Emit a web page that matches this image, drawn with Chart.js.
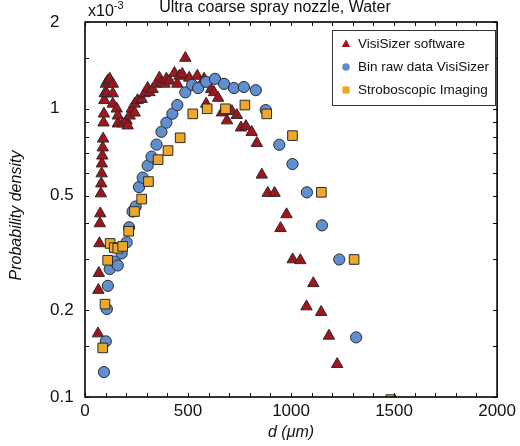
<!DOCTYPE html>
<html>
<head>
<meta charset="utf-8">
<title>Ultra coarse spray nozzle, Water</title>
<script src="https://cdn.jsdelivr.net/npm/chart.js@4.4.1/dist/chart.umd.min.js"></script>
<style>
  html, body { margin: 0; padding: 0; background: #fff; }
  #wrap { width: 520px; height: 446px; }
</style>
</head>
<body>
<div id="wrap"><canvas id="chart" width="520" height="446"></canvas></div>
<script>
// droplet diameter d (um) and probability density (x10^-3)
var visiD = [63, 65, 67, 70, 72, 74, 77, 79, 81, 82, 84, 86, 88, 90, 92, 94, 96, 101, 106, 110,
    120, 135, 135, 135, 154, 159, 159, 183, 202, 207, 217, 227, 241, 241, 255, 275, 289, 304, 313, 328,
    347, 361, 371, 386, 395, 410, 434, 448, 458, 472, 487, 506, 545, 578, 588, 612, 626, 646, 665, 689,
    713, 737, 757, 781, 809, 834, 858, 887, 920, 949, 978, 1008, 1045, 1075, 1108, 1146, 1184, 1224];
var visiP = [0.166, 0.235, 0.269, 0.341, 0.40, 0.433, 0.508, 0.55, 0.596, 0.645, 0.687, 0.733, 0.787, 0.895, 0.961, 1.07, 1.13, 1.22, 1.13, 1.25,
    1.27, 1.22, 1.13, 1.04, 1.0, 0.946, 0.888, 0.888, 0.909, 0.874, 0.946, 1.0, 0.969, 1.04, 1.07, 1.08, 1.13, 1.18, 1.14, 1.17,
    1.22, 1.28, 1.23, 1.22, 1.27, 1.25, 1.33, 1.22, 1.30, 1.32, 1.50, 1.28, 1.30, 1.27, 1.04, 1.17, 1.14, 1.09, 0.97, 0.91,
    0.98, 0.95, 0.86, 0.87, 0.83, 0.76, 0.59, 0.51, 0.51, 0.385, 0.43, 0.30, 0.298, 0.206, 0.248, 0.197, 0.163, 0.13];

var binD = [92, 101, 106, 111, 120, 145, 159, 178, 202, 214, 231, 246, 262, 280, 304, 323, 347, 371, 395, 424,
    448, 487, 520, 549, 588, 631, 675, 723, 771, 829, 877, 943, 1007, 1077, 1150, 1234, 1316];
var binP = [0.122, 0.156, 0.202, 0.243, 0.278, 0.295, 0.286, 0.315, 0.344, 0.388, 0.44, 0.458, 0.535, 0.577, 0.635, 0.682, 0.751, 0.832, 0.895, 0.961,
    1.03, 1.14, 1.21, 1.18, 1.24, 1.27, 1.22, 1.18, 1.19, 1.16, 0.99, 0.75, 0.643, 0.513, 0.394, 0.30, 0.161];

var stroboD = [86, 97, 110, 122, 142, 159, 183, 212, 240, 275, 308, 355, 403, 462, 523, 593, 682, 776, 882, 1007, 1147, 1306, 1484];
var stroboP = [0.148, 0.21, 0.298, 0.341, 0.33, 0.328, 0.333, 0.376, 0.44, 0.486, 0.559, 0.666, 0.716, 0.793, 0.96, 1.0, 1.0, 1.03, 0.96, 0.807, 0.513, 0.30, 0.098];

var seriesNames = ["VisiSizer software", "Bin raw data VisiSizer", "Stroboscopic Imaging"];
var seriesColors = ["#a3141d", "#5f8fd0", "#eda82a"];
var seriesShapes = ["triangle", "circle", "rect"];

var yTickValues = [0.1, 0.15, 0.2, 0.3, 0.4, 0.5, 0.6, 0.7, 0.8, 0.9, 1, 1.5, 2];
var yTickLabels = ["0.1", "", "0.2", "", "", "0.5", "", "", "", "", "1", "", "2"];
var xLabelStep = 500;

var FONT = "'Liberation Sans', Arial, sans-serif";

function toPoints(xs, ys) {
    return xs.map(function(x, i) { return { x: x, y: ys[i] }; });
}

// frame with inward ticks on all four sides, plus the x10^-3 note and y title
var framePlugin = {
    id: 'frame',
    afterDatasetsDraw: function(chart) {
        var ctx = chart.ctx, a = chart.chartArea;
        var xs = chart.scales.x, ys = chart.scales.y;
        ctx.save();
        ctx.strokeStyle = '#000';
        ctx.lineWidth = 1;
        ctx.beginPath();
        xs.ticks.forEach(function(t) {
            var px = Math.round(xs.getPixelForValue(t.value)) + 0.5;
            var len = 4;
            ctx.moveTo(px, a.bottom); ctx.lineTo(px, a.bottom - len);
            ctx.moveTo(px, a.top); ctx.lineTo(px, a.top + len);
        });
        ys.ticks.forEach(function(t) {
            var py = Math.round(ys.getPixelForValue(t.value)) + 0.5;
            var len = 4;
            ctx.moveTo(a.left, py); ctx.lineTo(a.left + len, py);
            ctx.moveTo(a.right, py); ctx.lineTo(a.right - len, py);
        });
        ctx.stroke();
        ctx.lineWidth = 1.6;
        ctx.strokeRect(a.left, a.top, a.right - a.left, a.bottom - a.top);

        // exponent note
        ctx.fillStyle = '#111';
        ctx.textBaseline = 'middle';
        ctx.textAlign = 'left';
        ctx.font = '16px ' + FONT;
        ctx.fillText('x10', a.left + 3, a.top - 10);
        var w = ctx.measureText('x10').width;
        ctx.font = '11px ' + FONT;
        ctx.fillText('-3', a.left + 3 + w, a.top - 16);

        // y axis title
        ctx.font = 'italic 16px ' + FONT;
        ctx.textAlign = 'center';
        ctx.translate(17, (a.top + a.bottom) / 2 + 6);
        ctx.rotate(-Math.PI / 2);
        ctx.fillText('Probability density', 0, 0);
        ctx.restore();
    }
};

function drawShape(ctx, shape, x, y, r) {
    ctx.beginPath();
    if (shape === 'triangle') {
        ctx.moveTo(x, y - r);
        ctx.lineTo(x + r * 0.95, y + r * 0.65);
        ctx.lineTo(x - r * 0.95, y + r * 0.65);
        ctx.closePath();
    } else if (shape === 'circle') {
        ctx.arc(x, y, r * 0.85, 0, Math.PI * 2);
    } else {
        ctx.rect(x - r * 0.8, y - r * 0.8, r * 1.6, r * 1.6);
    }
    ctx.fill();
}

// boxed legend in the upper right of the plot
var legendPlugin = {
    id: 'boxLegend',
    afterDraw: function(chart) {
        var ctx = chart.ctx;
        var bx = 332, by = 30, bw = 163, bh = 75;
        ctx.save();
        ctx.fillStyle = '#fff';
        ctx.fillRect(bx, by, bw, bh);
        ctx.strokeStyle = '#333';
        ctx.lineWidth = 1;
        ctx.strokeRect(bx + 0.5, by + 0.5, bw, bh);
        ctx.font = '13.5px ' + FONT;
        ctx.textBaseline = 'middle';
        ctx.textAlign = 'left';
        seriesNames.forEach(function(name, i) {
            var y = by + 14 + i * 23;
            ctx.fillStyle = seriesColors[i];
            drawShape(ctx, seriesShapes[i], bx + 14, y, 4.5);
            ctx.fillStyle = '#111';
            ctx.fillText(name, bx + 26, y);
        });
        ctx.restore();
    }
};

var datasets = [
    { label: seriesNames[2], data: toPoints(stroboD, stroboP), pointStyle: 'rect', pointRadius: 6.8, order: 0 },
    { label: seriesNames[1], data: toPoints(binD, binP), pointStyle: 'circle', pointRadius: 5.6, order: 1 },
    { label: seriesNames[0], data: toPoints(visiD, visiP), pointStyle: 'triangle', pointRadius: 6.6, order: 2 }
];
datasets.forEach(function(ds) {
    var i = seriesNames.indexOf(ds.label);
    ds.backgroundColor = seriesColors[i];
    ds.borderColor = '#2b2b2b';
    ds.borderWidth = 1;
    ds.pointHoverRadius = ds.pointRadius;
    ds.clip = 0;
});

var chart = new Chart(document.getElementById('chart'), {
    type: 'scatter',
    data: { datasets: datasets },
    plugins: [framePlugin, legendPlugin],
    options: {
        responsive: false,
        animation: false,
        layout: { padding: { left: 50, right: 20, top: 0, bottom: 0 } },
        plugins: {
            legend: { display: false },
            tooltip: { enabled: false },
            title: {
                display: true,
                text: 'Ultra coarse spray nozzle, Water',
                color: '#111',
                font: { family: FONT, size: 16, weight: 'normal', lineHeight: 1 },
                padding: { top: 0, bottom: 6 }
            }
        },
        scales: {
            x: {
                type: 'linear',
                min: 0,
                max: 2000,
                grid: { display: false, drawTicks: false },
                border: { display: false },
                ticks: {
                    stepSize: 100,
                    autoSkip: false,
                    maxRotation: 0,
                    padding: 4,
                    color: '#111',
                    font: { family: FONT, size: 17 },
                    callback: function(v) { return v % xLabelStep === 0 ? String(v) : ''; }
                },
                title: {
                    display: true,
                    text: 'd (\u03bcm)',
                    color: '#111',
                    font: { family: FONT, size: 16, style: 'italic' },
                    padding: { top: 0, bottom: 4 }
                },
                afterFit: function(s) { s.height = 49; }
            },
            y: {
                type: 'logarithmic',
                min: 0.1,
                max: 2,
                grid: { display: false, drawTicks: false },
                border: { display: false },
                afterBuildTicks: function(s) {
                    s.ticks = yTickValues.map(function(v) { return { value: v }; });
                },
                ticks: {
                    autoSkip: false,
                    crossAlign: 'far',
                    padding: 8,
                    color: '#111',
                    font: { family: FONT, size: 17 },
                    callback: function(v) {
                        var i = yTickValues.indexOf(v);
                        return i >= 0 ? yTickLabels[i] : '';
                    }
                },
                afterFit: function(s) { s.width = 35; }
            }
        }
    }
});
</script>
</body>
</html>
